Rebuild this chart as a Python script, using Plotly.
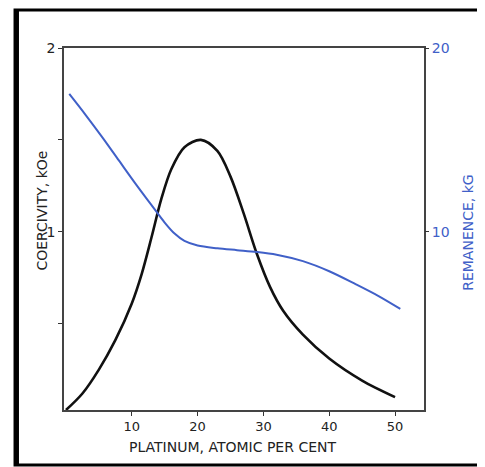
import plotly.graph_objects as go

# Coercivity curve (kOe) vs platinum (atomic %)
coer_x = [0, 2.5, 5, 7.5, 10, 11.5, 13, 14.5, 16, 18, 20.5, 23, 25, 27, 29, 31, 33, 36, 40, 45, 50]
coer_y = [0.03, 0.12, 0.25, 0.41, 0.61, 0.77, 0.97, 1.18, 1.34, 1.46, 1.50, 1.44, 1.30, 1.10, 0.88, 0.70, 0.57, 0.44, 0.31, 0.19, 0.10]

# Remanence curve (kG) vs platinum (atomic %)
rem_x = [0.5, 3, 5.5, 8, 10.5, 13, 15, 16.5, 18, 20, 23, 26, 29, 32, 36, 40, 44, 47.5, 50.8]
rem_y = [17.5, 16.35, 15.15, 13.9, 12.65, 11.45, 10.5, 9.9, 9.5, 9.25, 9.1, 9.0, 8.9, 8.75, 8.4, 7.85, 7.15, 6.5, 5.8]

x_ticks = [10, 20, 30, 40, 50]
y1_ticks = [0.5, 1, 1.5, 2]
y1_ticktext = ["", "1", "", "2"]
y2_ticks = [10, 20]
y2_ticktext = ["10", "20"]

BLUE = "#4060c8"
FONT = "DejaVu Sans"

fig = go.Figure()
fig.add_trace(go.Scatter(x=coer_x, y=coer_y, mode="lines",
                         line=dict(color="#111111", width=2.6, shape="spline", smoothing=0.9),
                         yaxis="y", showlegend=False))
fig.add_trace(go.Scatter(x=rem_x, y=rem_y, mode="lines",
                         line=dict(color=BLUE, width=2, shape="spline", smoothing=0.9),
                         yaxis="y2", showlegend=False))

fig.update_layout(
    width=477, height=459,
    margin=dict(l=56, r=61, t=40, b=57),
    paper_bgcolor="white", plot_bgcolor="white",
    font=dict(family=FONT, size=12, color="#222222"),
    xaxis=dict(range=[-0.3, 54.4], tickvals=x_ticks, ticks="outside", ticklen=4, tickwidth=1.2, tickcolor="#333",
               showline=True, linecolor="#444", linewidth=1.5, mirror=True, showgrid=False, zeroline=False,
               tickfont=dict(size=13, color="#222")),
    yaxis=dict(range=[0.03, 2], tickvals=y1_ticks, ticktext=y1_ticktext, ticks="outside", ticklen=4, tickwidth=1.2,
               tickcolor="#333", showline=True, linecolor="#444", linewidth=1.5, mirror=True, showgrid=False,
               zeroline=False, tickfont=dict(size=14, color="#222")),
    yaxis2=dict(range=[0.3, 20], overlaying="y", side="right", tickvals=y2_ticks, ticktext=y2_ticktext,
                ticks="outside", ticklen=4, tickwidth=1.2, tickcolor="#333", showline=False, showgrid=False,
                zeroline=False, tickfont=dict(size=14, color=BLUE)),
    annotations=[
        dict(text="PLATINUM, ATOMIC PER CENT", xref="paper", yref="paper", x=0.467, y=-0.102, showarrow=False,
             font=dict(size=14, color="#222"), xanchor="center", yanchor="middle"),
        dict(text="COERCIVITY, kOe", xref="paper", yref="paper", x=-0.062, y=0.55, showarrow=False, textangle=-90,
             font=dict(size=14, color="#222"), xanchor="center", yanchor="middle"),
        dict(text="REMANENCE, kG", xref="paper", yref="paper", x=1.12, y=0.49, showarrow=False, textangle=-90,
             font=dict(size=14, color=BLUE), xanchor="center", yanchor="middle"),
    ],
    shapes=[
        dict(type="rect", xref="paper", yref="paper", x0=-0.136, x1=1.161, y0=-0.152, y1=1.105,
             line=dict(color="black", width=3)),
        dict(type="line", xref="paper", yref="paper", x0=-0.132, x1=-0.132, y0=-0.152, y1=1.105,
             line=dict(color="black", width=5)),
    ],
)

fig.write_html("out.html")
